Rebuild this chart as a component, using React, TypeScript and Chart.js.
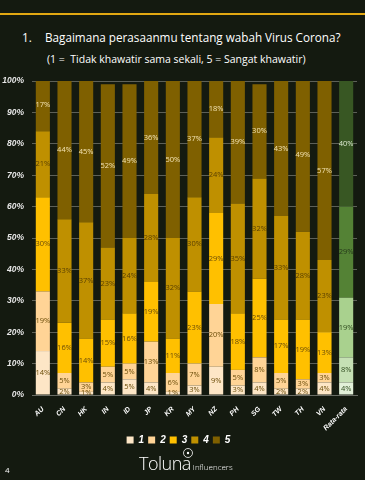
import React, { useEffect, useRef } from "react";
import { Chart, registerables } from "chart.js";

Chart.register(...registerables);

const categories = ["AU", "CN", "HK", "IN", "ID", "JP", "KR", "MY", "NZ", "PH", "SG", "TW", "TH", "VN", "Rata-rata"];
const seriesNames = ["1", "2", "3", "4", "5"];
const s1 = [14, 2, 1, 4, 5, 4, 1, 3, 9, 3, 4, 2, 2, 4, 4];
const s2 = [19, 5, 3, 5, 5, 13, 6, 7, 20, 5, 8, 5, 3, 3, 8];
const s3 = [30, 16, 14, 15, 16, 19, 11, 23, 29, 18, 25, 17, 19, 13, 19];
const s4 = [21, 33, 37, 23, 24, 28, 32, 30, 24, 35, 32, 33, 28, 23, 29];
const s5 = [17, 44, 45, 52, 49, 36, 50, 37, 18, 39, 30, 43, 49, 57, 40];
const yTicks = [0, 10, 20, 30, 40, 50, 60, 70, 80, 90, 100];

const goldColors = ["#FDE6C6", "#FFD496", "#FFC000", "#BF9000", "#7F6000"];
const greenColors = ["#E2F0D9", "#C5E0B4", "#A9D18E", "#548235", "#385723"];
const labelGold = ["#6A4C08", "#6A4C08", "#6A4C08", "#5A4000", "#F3E3B2"];
const labelGreen = ["#2F4A1E", "#2F4A1E", "#2F4A1E", "#25391A", "#DDEBD2"];

const BG = "#141a10";

const valueLabels = {
  id: "valueLabels",
  afterDatasetsDraw(chart: any) {
    const ctx = chart.ctx;
    ctx.save();
    ctx.font = "7.5px 'Open Sans', 'Noto Sans', sans-serif";
    ctx.textAlign = "center";
    ctx.textBaseline = "middle";
    chart.data.datasets.forEach((ds: any, di: number) => {
      const meta = chart.getDatasetMeta(di);
      meta.data.forEach((el: any, i: number) => {
        const v = ds.data[i];
        const isAvg = i === categories.length - 1;
        ctx.fillStyle = isAvg ? labelGreen[di] : labelGold[di];
        const cy = (el.y + el.base) / 2;
        ctx.fillText(v + "%", el.x, cy);
      });
    });
    ctx.restore();
  },
};

export default function App() {
  const ref = useRef<HTMLCanvasElement | null>(null);
  useEffect(() => {
    document.body.style.margin = "0";
    document.body.style.background = BG;
    const all = [s1, s2, s3, s4, s5];
    const chart = new Chart(ref.current as HTMLCanvasElement, {
      type: "bar",
      data: {
        labels: categories,
        datasets: all.map((d, k) => ({
          label: seriesNames[k],
          data: d,
          backgroundColor: categories.map((_, i) => (i === categories.length - 1 ? greenColors[k] : goldColors[k])),
          borderWidth: 0,
          barPercentage: 0.65,
          categoryPercentage: 1,
        })),
      },
      options: {
        responsive: false,
        animation: false,
        layout: { padding: { left: 0, right: 8, top: 13, bottom: 0 } },
        plugins: {
          tooltip: { enabled: false },
          legend: {
            position: "bottom",
            labels: {
              color: "#ffffff",
              boxWidth: 7,
              boxHeight: 7,
              padding: 4,
              font: { family: "'Liberation Sans', sans-serif", size: 10, style: "italic", weight: "bold" },
              generateLabels: () =>
                seriesNames.map((n, k) => ({
                  text: n,
                  fillStyle: goldColors[k],
                  strokeStyle: goldColors[k],
                  lineWidth: 0,
                  fontColor: "#ffffff",
                  datasetIndex: k,
                  hidden: false,
                })),
            },
          },
        },
        scales: {
          x: {
            stacked: true,
            grid: { display: false },
            border: { color: "#6b6e66", width: 1 },
            ticks: {
              color: "#ffffff",
              minRotation: 45,
              maxRotation: 45,
              padding: 2,
              font: { family: "'Liberation Sans', sans-serif", size: 7, style: "italic", weight: "bold" },
            },
            afterFit: (s: any) => {
              s.height = 36;
            },
          },
          y: {
            stacked: true,
            min: 0,
            max: 100,
            afterBuildTicks: (s: any) => {
              s.ticks = yTicks.map((v) => ({ value: v }));
            },
            grid: { color: "#5d6058", drawTicks: false, lineWidth: 1 },
            border: { display: false },
            ticks: {
              color: "#e8e8e8",
              padding: 8,
              callback: (v: any) => v + "%",
              font: { family: "'Liberation Sans', sans-serif", size: 8.5, style: "italic", weight: "bold" },
            },
            afterFit: (s: any) => {
              s.width = 32;
            },
          },
        },
      },
      plugins: [valueLabels],
    } as any);
    return () => chart.destroy();
  }, []);

  return (
    <div style={{ position: "fixed", left: 0, top: 0, width: 365, height: 480, background: BG, overflow: "hidden", fontFamily: "'Open Sans', sans-serif" }}>
      <div style={{ position: "absolute", left: 0, top: 13, width: 365, height: 2, background: "#E2A812" }} />
      <div style={{ position: "absolute", left: 22, top: 29, color: "#ffffff", fontSize: 11.7, whiteSpace: "nowrap", lineHeight: "16px" }}>
        <span>1.</span>
        <span style={{ position: "absolute", left: 23 }}>Bagaimana perasaanmu tentang wabah Virus Corona?</span>
      </div>
      <div style={{ position: "absolute", left: 47, top: 52, color: "#ffffff", fontSize: 10.5, whiteSpace: "nowrap", lineHeight: "14px" }}>
        (1 =&nbsp; Tidak khawatir sama sekali, 5 = Sangat khawatir)
      </div>
      <canvas ref={ref} width={365} height={387} style={{ position: "absolute", left: 0, top: 68, width: 365, height: 387 }} />
      <div style={{ position: "absolute", left: 139, top: 453, color: "#ffffff", fontSize: 18, fontWeight: 300, lineHeight: "20px", letterSpacing: -0.5, whiteSpace: "nowrap" }}>
        Toluna
        <span style={{ fontSize: 8, letterSpacing: 0, marginLeft: 2 }}>Influencers</span>
      </div>
      <svg style={{ position: "absolute", left: 182, top: 447 }} width={12} height={12}>
        <circle cx={6} cy={6} r={4.5} fill="none" stroke="#ffffff" strokeWidth={0.8} />
        <circle cx={6} cy={6} r={1.2} fill="#ffffff" />
      </svg>
      <div style={{ position: "absolute", left: 5, top: 464, color: "#ffffff", fontSize: 8 }}>4</div>
    </div>
  );
}
